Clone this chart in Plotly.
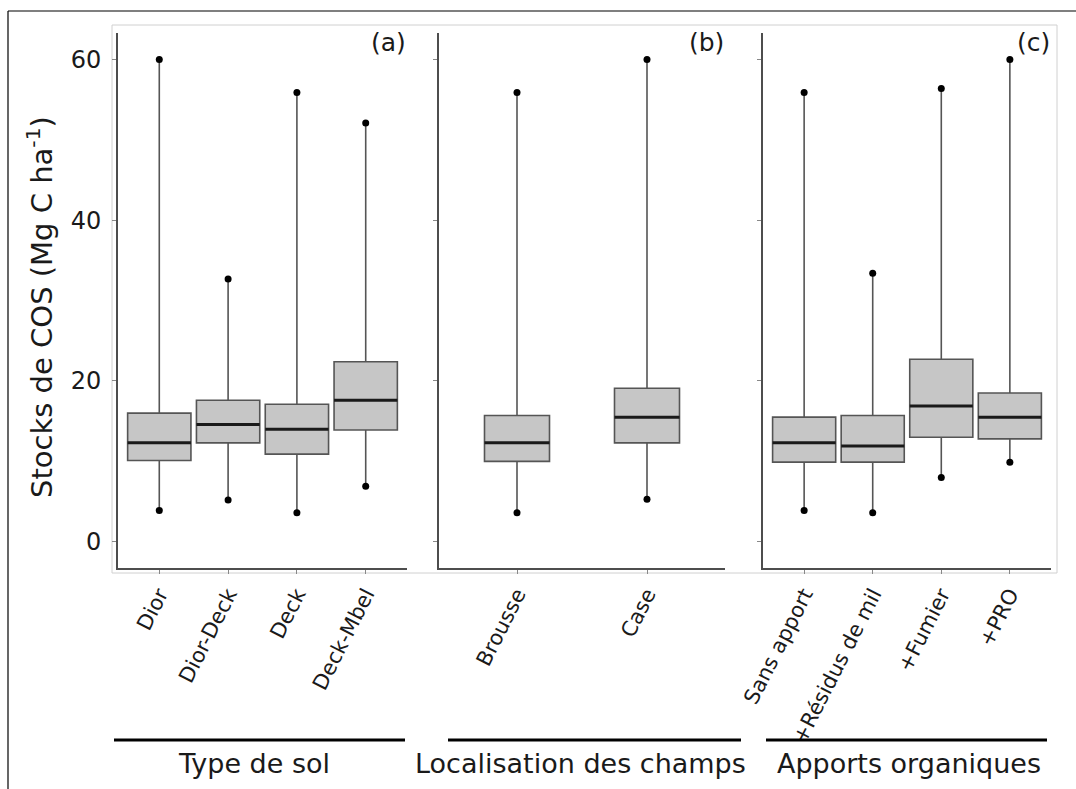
import plotly.graph_objects as go

# ---------------- data ----------------
soil_types = ["Dior", "Dior-Deck", "Deck", "Deck-Mbel"]
soil_min = [3.9, 5.2, 3.6, 6.9]
soil_q1 = [10.1, 12.3, 10.9, 13.9]
soil_med = [12.3, 14.6, 14.0, 17.6]
soil_q3 = [16.0, 17.6, 17.1, 22.4]
soil_max = [60.0, 32.7, 55.9, 52.1]

loc_fields = ["Brousse", "Case"]
loc_min = [3.6, 5.3]
loc_q1 = [10.0, 12.3]
loc_med = [12.3, 15.5]
loc_q3 = [15.7, 19.1]
loc_max = [55.9, 60.0]

apports = ["Sans apport", "+Résidus de mil", "+Fumier", "+PRO"]
app_min = [3.9, 3.6, 8.0, 9.9]
app_q1 = [9.9, 9.9, 13.0, 12.8]
app_med = [12.3, 11.9, 16.9, 15.5]
app_q3 = [15.5, 15.7, 22.7, 18.5]
app_max = [55.9, 33.4, 56.4, 60.0]

panel_tags = ["(a)", "(b)", "(c)"]
group_titles = ["Type de sol", "Localisation des champs", "Apports organiques"]
y_ticks = [0, 20, 40, 60]
y_title = "Stocks de COS (Mg C ha<sup>-1</sup>)"

# ---------------- layout helpers ----------------
W, H = 1076, 789
FONT = "DejaVu Sans"


def px(x):
    return x / W


def py(y):
    return 1 - y / H


panels = [
    dict(cats=soil_types, mn=soil_min, q1=soil_q1, med=soil_med, q3=soil_q3, mx=soil_max,
         dom=[px(118), px(407)], width=0.92),
    dict(cats=loc_fields, mn=loc_min, q1=loc_q1, med=loc_med, q3=loc_q3, mx=loc_max,
         dom=[px(439), px(725)], width=0.5),
    dict(cats=apports, mn=app_min, q1=app_q1, med=app_med, q3=app_q3, mx=app_max,
         dom=[px(763), px(1051)], width=0.92),
]

fig = go.Figure()
box_fill = "#c6c6c6"
box_line = "#555555"
axis_col = "#4d4d4d"
y_range = [-3.27, 63.3]
y_dom = [py(568), py(33)]

for k, p in enumerate(panels):
    sfx = "" if k == 0 else str(k + 1)
    xa, ya = "x" + sfx, "y" + sfx
    pos = list(range(1, len(p["cats"]) + 1))
    w = p["width"]
    fig.add_trace(go.Box(
        x=pos, q1=p["q1"], median=p["med"], q3=p["q3"],
        lowerfence=p["mn"], upperfence=p["mx"],
        width=w, boxpoints=False, fillcolor=box_fill,
        line=dict(color=box_line, width=1.6), whiskerwidth=0,
        xaxis=xa, yaxis=ya, showlegend=False, hoverinfo="skip"))
    # median lines
    mx_, my_ = [], []
    for i, m in zip(pos, p["med"]):
        mx_ += [i - w / 2, i + w / 2, None]
        my_ += [m, m, None]
    fig.add_trace(go.Scatter(x=mx_, y=my_, mode="lines",
                             line=dict(color="#1a1a1a", width=3),
                             xaxis=xa, yaxis=ya, showlegend=False, hoverinfo="skip"))
    # extreme points
    fig.add_trace(go.Scatter(x=pos + pos, y=p["mn"] + p["mx"], mode="markers",
                             marker=dict(color="black", size=7),
                             xaxis=xa, yaxis=ya, showlegend=False, hoverinfo="skip"))

    n = len(p["cats"])
    fig.update_layout(**{
        "xaxis" + sfx: dict(
            domain=p["dom"], anchor=ya, range=[0.4, n + 0.6],
            tickvals=pos, ticktext=p["cats"], tickangle=-63,
            tickfont=dict(family=FONT, size=21, color="#1a1a1a"),
            showgrid=False, zeroline=False, showline=True,
            linecolor=axis_col, linewidth=1.6, automargin=False,
            ticks="outside", ticklen=4, tickcolor="#888", fixedrange=True),
        "yaxis" + sfx: dict(
            domain=y_dom, anchor=xa, range=y_range,
            tickvals=y_ticks, showticklabels=(k == 0),
            tickfont=dict(family=FONT, size=24, color="#1a1a1a"),
            showgrid=False, zeroline=False, showline=True,
            linecolor=axis_col, linewidth=1.6, automargin=False,
            ticks="outside", ticklen=4, tickcolor="#888",
            ticklabelstandoff=6, fixedrange=True),
    })
    # panel tag
    fig.add_annotation(x=p["dom"][1] + px(1), y=py(26), xref="paper", yref="paper",
                       xanchor="right", yanchor="top", showarrow=False,
                       text=panel_tags[k], font=dict(family=FONT, size=25, color="#1a1a1a"))

# y axis title
fig.add_annotation(x=px(40), y=py(307), xref="paper", yref="paper",
                   xanchor="center", yanchor="middle", showarrow=False, textangle=-90,
                   text=y_title, font=dict(family=FONT, size=29, color="#1a1a1a"))

# group lines and titles
group_spans = [(114, 405), (448, 741), (766, 1047)]
title_centers = [254, 580, 909]
for (x0, x1), xc, t in zip(group_spans, title_centers, group_titles):
    fig.add_shape(type="line", xref="paper", yref="paper",
                  x0=px(x0), x1=px(x1), y0=py(740), y1=py(740),
                  line=dict(color="black", width=3))
    fig.add_annotation(x=px(xc), y=py(763), xref="paper", yref="paper",
                       xanchor="center", yanchor="middle", showarrow=False,
                       text=t, font=dict(family=FONT, size=27, color="#1a1a1a"))

# light outer panel rectangle
fig.add_shape(type="rect", xref="paper", yref="paper",
              x0=px(112), x1=px(1057), y0=py(573), y1=py(25),
              line=dict(color="#d0d0d0", width=1), layer="below")
# black frame (top and left)
fig.add_shape(type="line", xref="paper", yref="paper", x0=px(8), x1=1.0, y0=py(11), y1=py(11),
              line=dict(color="black", width=1.2))
fig.add_shape(type="line", xref="paper", yref="paper", x0=px(8), x1=px(8), y0=py(11), y1=0,
              line=dict(color="black", width=1.2))

fig.update_layout(width=W, height=H, margin=dict(l=0, r=0, t=0, b=0, autoexpand=False),
                  paper_bgcolor="white", plot_bgcolor="white",
                  font=dict(family=FONT, color="#1a1a1a"))

fig.write_html("out.html")
